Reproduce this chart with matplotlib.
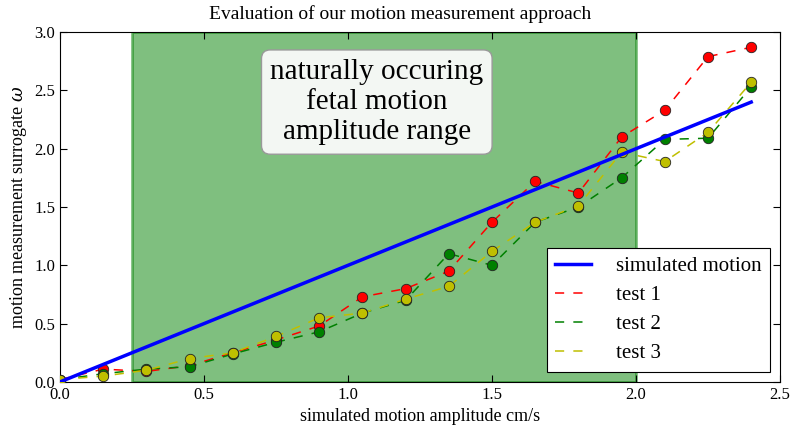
import numpy as np
import matplotlib
matplotlib.use('Agg')
import matplotlib.pyplot as plt

plt.rcParams['font.family'] = ['Liberation Serif', 'DejaVu Serif']
plt.rcParams['mathtext.fontset'] = 'dejavuserif'

# simulated amplitudes (cm/s)
amplitude = [0.0, 0.15, 0.3, 0.45, 0.6, 0.75, 0.9, 1.05, 1.2, 1.35,
             1.5, 1.65, 1.8, 1.95, 2.1, 2.25, 2.4]
simulated = amplitude
test1 = [0.02, 0.11, 0.09, 0.14, 0.25, 0.36, 0.48, 0.73, 0.80, 0.95,
         1.37, 1.72, 1.62, 2.10, 2.33, 2.79, 2.87]
test2 = [0.02, 0.07, 0.11, 0.13, 0.24, 0.34, 0.43, 0.59, 0.70, 1.10,
         1.00, 1.37, 1.50, 1.75, 2.08, 2.09, 2.53]
test3 = [0.02, 0.05, 0.10, 0.20, 0.25, 0.39, 0.55, 0.59, 0.71, 0.82,
         1.12, 1.37, 1.51, 1.97, 1.89, 2.14, 2.57]
fetal_range = (0.25, 2.0)

red, green, yellow = (1, 0, 0), (0, 0.5, 0), (0.75, 0.75, 0)

fig = plt.figure(figsize=(8, 4.4), dpi=100)
ax = fig.add_axes([0.075, 0.132, 0.9, 0.795])

ax.axvspan(*fetal_range, facecolor=green, edgecolor=green, alpha=0.5, linewidth=2)
ax.text(1.1, 2.4, "naturally occuring\nfetal motion\namplitude range",
        ha='center', va='center', fontsize=21, linespacing=1.22,
        bbox=dict(boxstyle='round,pad=0.3', facecolor='#f3f7f3', edgecolor='#999999'))

ax.plot(amplitude, simulated, color='b', linewidth=2.5, label='simulated motion', zorder=5)
for vals, col, name in [(test1, red, 'test 1'), (test2, green, 'test 2'), (test3, yellow, 'test 3')]:
    ax.plot(amplitude, vals, '--', color=col, linewidth=1.1, dashes=(6, 6), label=name, zorder=3)
    ax.plot(amplitude, vals, 'o', color=col, markersize=7.5, markeredgecolor='#222222',
            markeredgewidth=0.6, zorder=4)

ax.set_xlim(0, 2.5)
ax.set_ylim(0, 3.0)
ax.set_xticks(np.arange(0, 2.51, 0.5))
ax.set_yticks(np.arange(0, 3.01, 0.5))
ax.tick_params(direction='in', top=True, right=True, labelsize=12, length=5)
fig.suptitle("Evaluation of our motion measurement approach", fontsize=14,
             x=0.5, y=0.968, va='center')
ax.set_xlabel("simulated motion amplitude cm/s", fontsize=13)
ax.set_ylabel(r"motion measurement surrogate $\omega$", fontsize=13)

leg = ax.legend(loc='lower right', fontsize=15, fancybox=False, framealpha=1,
                edgecolor='black', handlelength=1.7, handletextpad=1.2,
                borderaxespad=0.5, labelspacing=0.45)
leg.get_frame().set_linewidth(0.8)

fig.savefig('out.png', dpi=100)
